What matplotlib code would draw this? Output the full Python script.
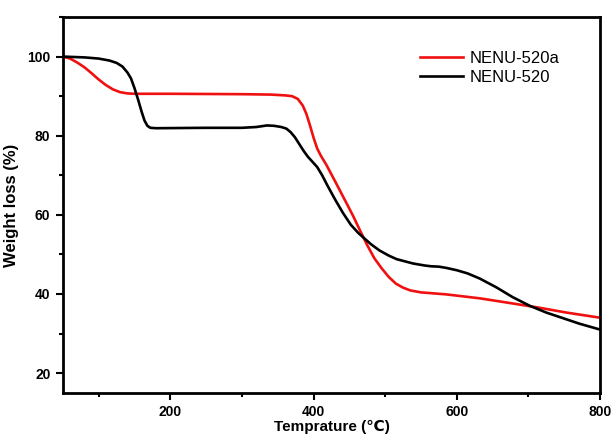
import matplotlib
matplotlib.use("Agg")
import matplotlib.pyplot as plt
from matplotlib.ticker import MultipleLocator

plt.rcParams["font.family"] = ["Liberation Sans", "DejaVu Sans"]

# NENU-520a (red)
temp_a = [50, 60, 70, 80, 90, 100, 110, 120, 130, 140, 150, 200, 300, 340, 360,
          370, 378, 385, 390, 395, 400, 405, 410, 418, 430, 445, 455, 465, 475,
          485, 495, 505, 515, 525, 535, 550, 585, 632, 678, 716, 753, 800]
weight_a = [100, 99.5, 98.5, 97.3, 95.8, 94.2, 92.8, 91.7, 91.0, 90.7, 90.6, 90.6,
            90.5, 90.4, 90.2, 90.0, 89.3, 87.6, 85.5, 82.6, 79.5, 76.8, 75.0, 72.6,
            68.5, 63.3, 59.8, 56.0, 52.3, 49.0, 46.5, 44.3, 42.6, 41.6, 40.9, 40.4,
            39.9, 38.9, 37.6, 36.5, 35.3, 34.0]

# NENU-520 (black)
temp_b = [50, 80, 100, 115, 125, 133, 140, 145, 150, 155, 160, 164, 168, 172, 180,
          250, 300, 320, 335, 345, 355, 362, 368, 374, 380, 386, 392, 398, 405,
          412, 420, 430, 441, 452, 462, 470, 480, 492, 505, 516, 539, 555, 564,
          575, 585, 600, 615, 632, 655, 678, 702, 725, 748, 771, 800]
weight_b = [100, 99.8, 99.5, 99.0, 98.4, 97.5, 96.0, 94.5, 92.0, 89.1, 86.0, 83.8,
            82.5, 82.0, 81.9, 82.0, 82.0, 82.2, 82.6, 82.5, 82.2, 81.8, 80.9, 79.6,
            77.9, 76.2, 74.7, 73.5, 72.1, 70.0, 67.2, 63.9, 60.5, 57.5, 55.5, 54.2,
            52.6, 51.0, 49.7, 48.8, 47.7, 47.2, 47.0, 46.9, 46.6, 46.0, 45.2, 43.9,
            41.7, 39.2, 37.0, 35.3, 33.9, 32.5, 31.0]

fig = plt.figure(figsize=(6.11, 4.37), dpi=100)
ax = fig.add_axes([0.103, 0.101, 0.879, 0.860])

ax.plot(temp_a, weight_a, color="#f01010", linewidth=1.9, label="NENU-520a",
        solid_joinstyle="round")
ax.plot(temp_b, weight_b, color="black", linewidth=1.9, label="NENU-520",
        solid_joinstyle="round")

ax.set_xlim(50, 800)
ax.set_ylim(15, 110)
ax.set_xticks([200, 400, 600, 800])
ax.set_yticks([20, 40, 60, 80, 100])
ax.xaxis.set_minor_locator(MultipleLocator(100))
ax.yaxis.set_minor_locator(MultipleLocator(10))

ax.tick_params(which="major", direction="out", length=5, width=1.5,
               labelsize=10, pad=4)
ax.tick_params(which="minor", direction="out", length=3, width=1.5)
for lbl in ax.get_xticklabels() + ax.get_yticklabels():
    lbl.set_fontweight("bold")
for sp in ax.spines.values():
    sp.set_linewidth(2)

ax.set_xlabel("Temprature (℃)", fontsize=11, fontweight="bold", labelpad=0)
ax.set_ylabel("Weight loss (%)", fontsize=12, fontweight="bold", labelpad=6)

ax.legend(loc="upper left", frameon=False, fontsize=12, handlelength=2.6,
          handletextpad=0.4, labelspacing=0.2, borderpad=0, borderaxespad=0,
          bbox_to_anchor=(0.665, 0.909))

fig.savefig("out.png", dpi=100)
